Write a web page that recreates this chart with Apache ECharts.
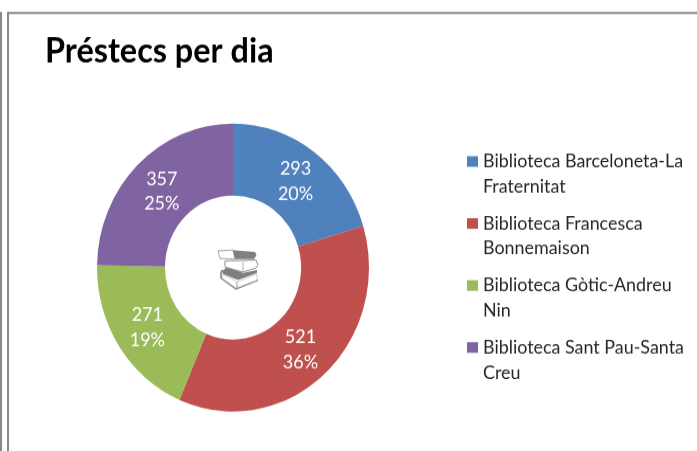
<!DOCTYPE html>
<html><head><meta charset="utf-8">
<style>html{overflow:hidden}html,body{margin:0;padding:0;background:#fff;height:451px}#c{width:697px;height:426px;transform-origin:0 0;transform:scaleY(1.0587)}</style>
<script src="https://cdn.jsdelivr.net/npm/echarts@6/dist/echarts.min.js"></script>
</head><body><div id="c"></div>
<script>
const titleText = 'Préstecs per dia';
const categories = ['Biblioteca Barceloneta-La\nFraternitat','Biblioteca Francesca\nBonnemaison','Biblioteca Gòtic-Andreu\nNin','Biblioteca Sant Pau-Santa\nCreu'];
const values = [293, 521, 271, 357];
const colors = ['#4F81BD','#C0504D','#9BBB59','#8064A2'];
const labelNudges = [[0,3],[-2.5,-0.8],[2.5,-0.8],[2.5,3]];
const font = 'Lato, "Open Sans", sans-serif';
const gray = '#878787';
const S = 1.0587; // the reference image is slightly stretched vertically
const Y = v => v / S;
const chart = echarts.init(document.getElementById('c'), null, {renderer:'canvas'});
chart.setOption({
  animation:false,
  backgroundColor:'#fff',
  title:{text:titleText,left:45,top:Y(34.5),padding:0,textStyle:{fontFamily:font,fontSize:32.4,fontWeight:'bold',color:'#000'}},
  legend:{orient:'vertical',left:467,top:Y(149),padding:0,itemWidth:11,itemHeight:33.6,itemGap:Y(62)-47.2,
    icon:'path://M0 0H11V10H0ZM0 33.6V33.6',symbolKeepAspect:false,
    textStyle:{fontFamily:font,fontSize:17.9,lineHeight:23.6,color:'#262626'},
    data:categories},
  series:[{type:'pie',center:[233,Y(267.5)],radius:[68,136],startAngle:90,clockwise:true,percentPrecision:0,
    avoidLabelOverlap:false,
    label:{show:true,position:'inside',formatter:'{c}\n{d}%',fontFamily:font,fontSize:18,lineHeight:23.6,color:'#fff'},
    labelLine:{show:false},
    emphasis:{disabled:true},
    data:categories.map((n,i)=>({name:n,value:values[i],itemStyle:{color:colors[i]},label:{offset:labelNudges[i]}}))}],
  graphic:[
    {type:'rect',shape:{x:0,y:Y(12),width:2,height:Y(439)},style:{fill:gray},silent:true},
    {type:'rect',shape:{x:7,y:Y(12),width:2,height:Y(439)},style:{fill:gray},silent:true},
    {type:'rect',shape:{x:7,y:Y(12),width:690,height:Y(2)},style:{fill:gray},silent:true},
    // book stack icon
    {type:'group',x:218,y:Y(249),scaleY:1/S,silent:true,children:[
      // bottom book
      {type:'polyline',shape:{points:[[4,21],[3,24],[3,29],[18,40],[40,31]]},style:{fill:'none',stroke:'#8a8a8a',lineWidth:1.6}},
      {type:'polygon',shape:{points:[[5,25],[19,33],[39,25],[39,31],[18,39],[4,29]]},style:{fill:'#fff',stroke:'#c4c4c4',lineWidth:0.8}},
      {type:'polyline',shape:{points:[[19,33],[19,39]]},style:{stroke:'#999',lineWidth:1}},
      {type:'polygon',shape:{points:[[4,22],[9,18],[25,24],[39,21],[39,24],[20,31],[5,25]]},style:{fill:'#7f7f7f'}},
      // middle book
      {type:'polygon',shape:{points:[[7,12],[38,11],[40,16],[38,19],[25,23],[7,18]]},style:{fill:'#fff',stroke:'#8a8a8a',lineWidth:1}},
      {type:'polyline',shape:{points:[[25,13],[25,22]]},style:{stroke:'#aaa',lineWidth:1}},
      // top book
      {type:'polygon',shape:{points:[[0,2],[15,1],[17,10],[2,9.5],[1,6]]},style:{fill:'#fff',stroke:'#a0a0a0',lineWidth:1}},
      {type:'polygon',shape:{points:[[15,1],[37,3],[38.5,6],[36,10],[17,10]]},style:{fill:'#808080'}}
    ]}
  ]
});
</script></body></html>
